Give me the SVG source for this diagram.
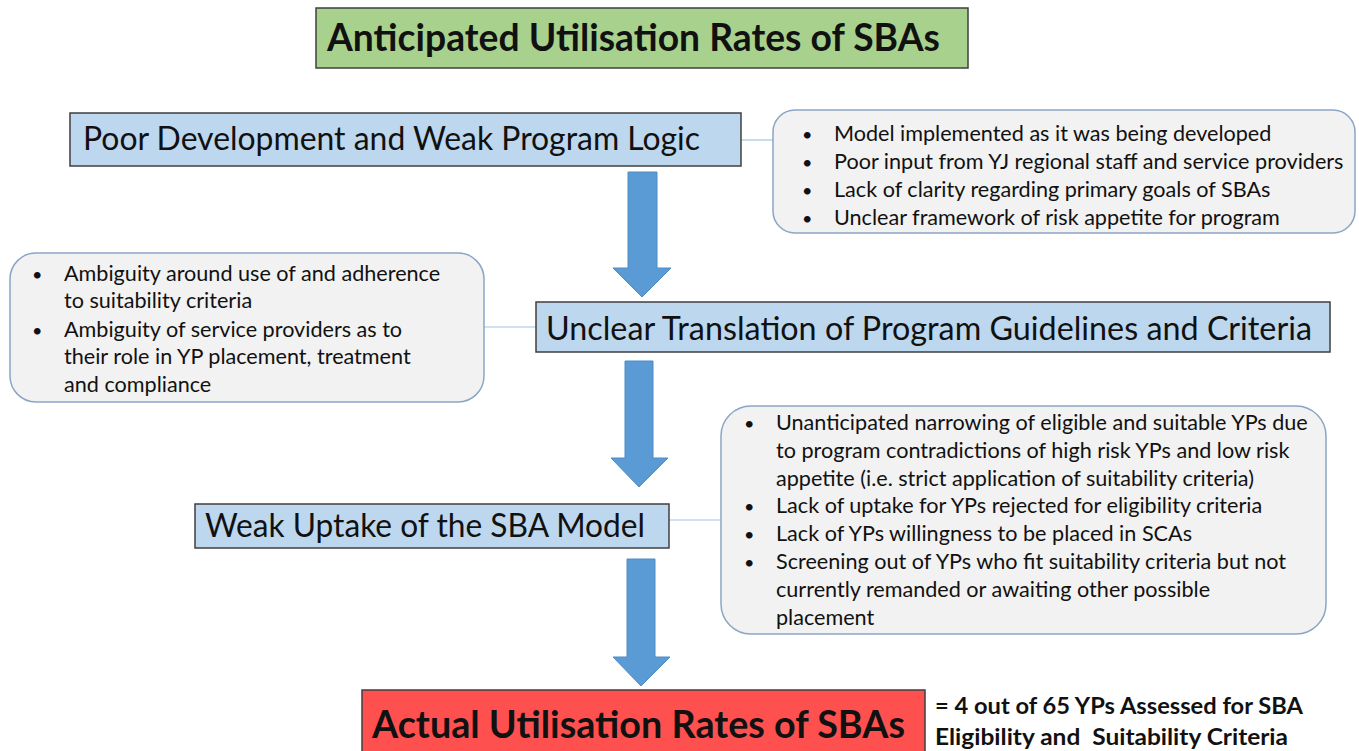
<svg xmlns="http://www.w3.org/2000/svg" width="1359" height="751" viewBox="0 0 1359 751">
  <defs>
    <style>
      .label { font-family: Lato, "Open Sans", "Liberation Sans", sans-serif; fill: #111; }
      .bold { font-weight: bold; }
      .stage { fill: #bdd7ee; stroke: #3f3f3f; stroke-width: 1.5; }
      .note { fill: #f2f2f2; stroke: #8aa6c6; stroke-width: 1.5; }
      .bullet { font-family: Lato, "Open Sans", "Liberation Sans", sans-serif; font-size: 21.6px; fill: #111; }
      .dot { font-size: 18px; }
      .link { stroke: #9dc3e6; stroke-width: 1.2; fill: none; }
      .flow { fill: #5b9bd5; stroke: #4f8cc6; stroke-width: 1; }
    </style>
  </defs>

  <rect width="1359" height="751" fill="#ffffff"/>

  <!-- connectors: side links and downward block arrows -->
  <g id="connectors">
    <line class="link" x1="741" y1="140" x2="773" y2="140"/>
    <line class="link" x1="484" y1="327" x2="536" y2="327"/>
    <line class="link" x1="669" y1="520" x2="721" y2="520"/>
    <polygon class="flow" points="628,172 657,172 657,268 671,268 642,297 613,268 628,268"/>
    <polygon class="flow" points="625,361 653,361 653,458 668,458 639,487 611,458 625,458"/>
    <polygon class="flow" points="627,559 655,559 655,657 670,657 641,686 613,657 627,657"/>
  </g>

  <g id="anticipated">
    <rect x="316" y="8" width="652" height="60" fill="#a9d18e" stroke="#3f3f3f" stroke-width="1.5"/>
    <text class="label bold" x="327" y="51" font-size="38" textLength="613" lengthAdjust="spacingAndGlyphs">Anticipated Utilisation Rates of SBAs</text>
  </g>

  <g id="poor-development">
    <rect class="stage" x="70" y="113" width="671" height="53"/>
    <text class="label" x="83" y="150" font-size="33" textLength="617" lengthAdjust="spacingAndGlyphs">Poor Development and Weak Program Logic</text>
  </g>

  <g id="development-notes">
    <rect class="note" x="773" y="110" width="582" height="123" rx="22" ry="22"/>
    <g class="bullet">
      <text class="dot" x="802" y="141">•</text><text x="834" y="141">Model implemented as it was being developed</text>
      <text class="dot" x="802" y="169">•</text><text x="834" y="169">Poor input from YJ regional staff and service providers</text>
      <text class="dot" x="802" y="197">•</text><text x="834" y="197">Lack of clarity regarding primary goals of SBAs</text>
      <text class="dot" x="802" y="225">•</text><text x="834" y="225">Unclear framework of risk appetite for program</text>
    </g>
  </g>

  <g id="unclear-translation">
    <rect class="stage" x="536" y="302" width="794" height="50"/>
    <text class="label" x="546" y="340" font-size="33" textLength="766" lengthAdjust="spacingAndGlyphs">Unclear Translation of Program Guidelines and Criteria</text>
  </g>

  <g id="translation-notes">
    <rect class="note" x="10" y="253" width="474" height="149" rx="26" ry="26"/>
    <g class="bullet">
      <text class="dot" x="32" y="281">•</text><text x="64" y="281">Ambiguity around use of and adherence</text>
      <text x="64" y="308">to suitability criteria</text>
      <text class="dot" x="32" y="337">•</text><text x="64" y="337">Ambiguity of service providers as to</text>
      <text x="64" y="364">their role in YP placement, treatment</text>
      <text x="64" y="392">and compliance</text>
    </g>
  </g>

  <g id="weak-uptake">
    <rect class="stage" x="195" y="504" width="474" height="44"/>
    <text class="label" x="205" y="537" font-size="33" textLength="440" lengthAdjust="spacingAndGlyphs">Weak Uptake of the SBA Model</text>
  </g>

  <g id="uptake-notes">
    <rect class="note" x="721" y="406" width="605" height="228" rx="30" ry="30"/>
    <g class="bullet">
      <text class="dot" x="744" y="430">•</text><text x="776" y="430">Unanticipated narrowing of eligible and suitable YPs due</text>
      <text x="776" y="458">to program contradictions of high risk YPs and low risk</text>
      <text x="776" y="486">appetite (i.e. strict application of suitability criteria)</text>
      <text class="dot" x="744" y="513">•</text><text x="776" y="513">Lack of uptake for YPs rejected for eligibility criteria</text>
      <text class="dot" x="744" y="541">•</text><text x="776" y="541">Lack of YPs willingness to be placed in SCAs</text>
      <text class="dot" x="744" y="569">•</text><text x="776" y="569">Screening out of YPs who fit suitability criteria but not</text>
      <text x="776" y="597">currently remanded or awaiting other possible</text>
      <text x="776" y="625">placement</text>
    </g>
  </g>

  <g id="actual">
    <rect x="362" y="690" width="563" height="66" fill="#ff5050" stroke="#3f3f3f" stroke-width="1.5"/>
    <text class="label bold" x="372" y="738" font-size="38" textLength="533" lengthAdjust="spacingAndGlyphs">Actual Utilisation Rates of SBAs</text>
  </g>

  <g id="actual-result">
    <text class="label bold" x="935" y="714" font-size="23" textLength="368" lengthAdjust="spacingAndGlyphs">= 4 out of 65 YPs Assessed for SBA</text>
    <text class="label bold" x="935" y="745" font-size="23" textLength="353" lengthAdjust="spacingAndGlyphs" xml:space="preserve">Eligibility and  Suitability Criteria</text>
  </g>
</svg>
